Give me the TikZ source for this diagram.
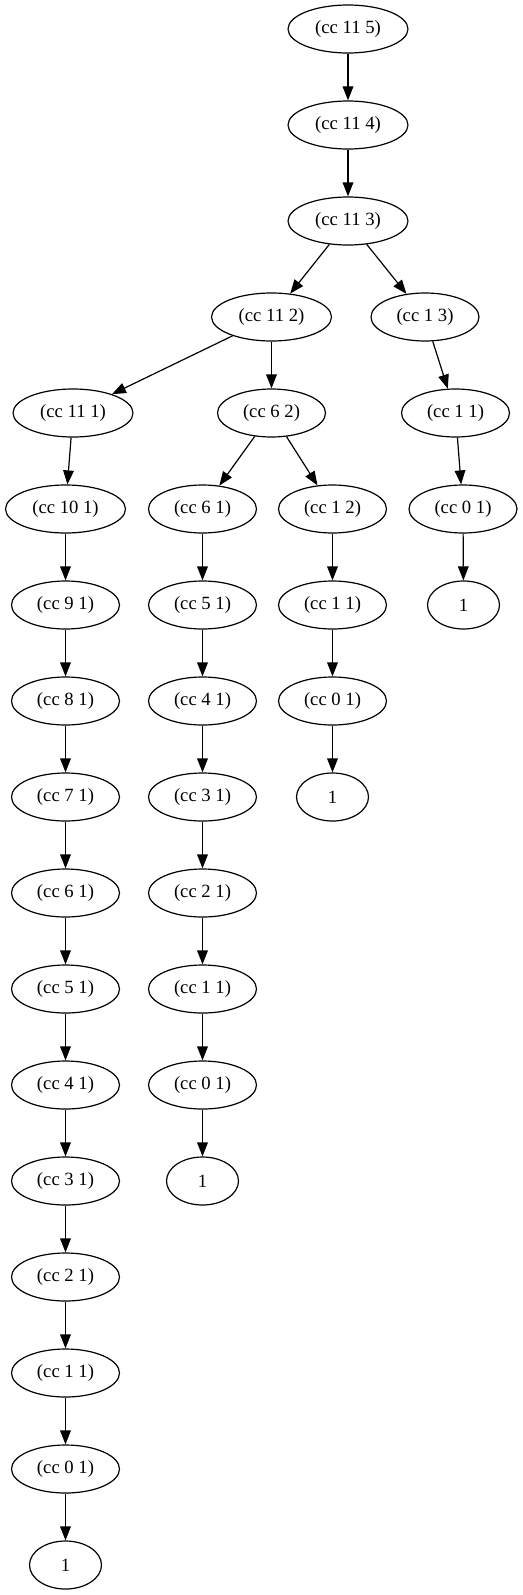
\documentclass[tikz,border=0pt]{standalone}
\usepackage{fontspec}
\setmainfont{Liberation Serif}
\usetikzlibrary{shapes.geometric,arrows.meta}
\begin{document}
\begin{tikzpicture}[x=0.75pt,y=-0.75pt,
  nd/.style={ellipse,draw,line width=0.9pt,minimum height=36pt,inner sep=0pt,font=\fontsize{14}{16}\selectfont},
  wa/.style={nd,minimum width=90pt},
  wb/.style={nd,minimum width=81pt},
  wc/.style={nd,minimum width=54pt},
  ed/.style={-{Triangle[length=10.5pt,width=8pt]},line width=0.9pt}]
\useasboundingbox (0,0) rectangle (523,1595);
% top chain
\node[wa] (a0) at (348,29) {(cc 11 5)};
\node[wa] (a1) at (348,125) {(cc 11 4)};
\node[wa] (a2) at (348,221) {(cc 11 3)};
\node[wa] (b) at (271.5,317) {(cc 11 2)};
\node[wb] (c) at (425,317) {(cc 1 3)};
\node[wa] (d) at (73,413) {(cc 11 1)};
\node[wb] (e) at (271.5,413) {(cc 6 2)};
\node[wb] (f) at (455.5,413) {(cc 1 1)};
% left chain
\node[wa] (L5) at (65.5,509) {(cc 10 1)};
\node[wb] (L6) at (65.5,605) {(cc 9 1)};
\node[wb] (L7) at (65.5,701) {(cc 8 1)};
\node[wb] (L8) at (65.5,797) {(cc 7 1)};
\node[wb] (L9) at (65.5,893) {(cc 6 1)};
\node[wb] (L10) at (65.5,989) {(cc 5 1)};
\node[wb] (L11) at (65.5,1085) {(cc 4 1)};
\node[wb] (L12) at (65.5,1181) {(cc 3 1)};
\node[wb] (L13) at (65.5,1277) {(cc 2 1)};
\node[wb] (L14) at (65.5,1373) {(cc 1 1)};
\node[wb] (L15) at (65.5,1469) {(cc 0 1)};
\node[wc] (L16) at (65.5,1565) {1};
% middle chain
\node[wb] (M5) at (202.5,509) {(cc 6 1)};
\node[wb] (M6) at (202.5,605) {(cc 5 1)};
\node[wb] (M7) at (202.5,701) {(cc 4 1)};
\node[wb] (M8) at (202.5,797) {(cc 3 1)};
\node[wb] (M9) at (202.5,893) {(cc 2 1)};
\node[wb] (M10) at (202.5,989) {(cc 1 1)};
\node[wb] (M11) at (202.5,1085) {(cc 0 1)};
\node[wc] (M12) at (202.5,1181) {1};
% (cc 1 2) chain
\node[wb] (N5) at (332.5,509) {(cc 1 2)};
\node[wb] (N6) at (332.5,605) {(cc 1 1)};
\node[wb] (N7) at (332.5,701) {(cc 0 1)};
\node[wc] (N8) at (332.5,797) {1};
% right chain
\node[wb] (R5) at (463,509) {(cc 0 1)};
\node[wc] (R6) at (463.5,605) {1};
% edges
\draw[ed] (a0) -- (a1);
\draw[ed] (a1) -- (a2);
\draw[ed] (a2) -- (b);
\draw[ed] (a2) -- (c);
\draw[ed] (b) -- (d);
\draw[ed] (b) -- (e);
\draw[ed] (c) -- (f);
\draw[ed] (d) -- (L5);
\draw[ed] (e) -- (M5);
\draw[ed] (e) -- (N5);
\draw[ed] (f) -- (R5);
\draw[ed] (R5) -- (R6);
\foreach \i [evaluate=\i as \j using int(\i+1)] in {5,...,15} {\draw[ed] (L\i) -- (L\j);}
\foreach \i [evaluate=\i as \j using int(\i+1)] in {5,...,11} {\draw[ed] (M\i) -- (M\j);}
\foreach \i [evaluate=\i as \j using int(\i+1)] in {5,...,7} {\draw[ed] (N\i) -- (N\j);}
\end{tikzpicture}
\end{document}
